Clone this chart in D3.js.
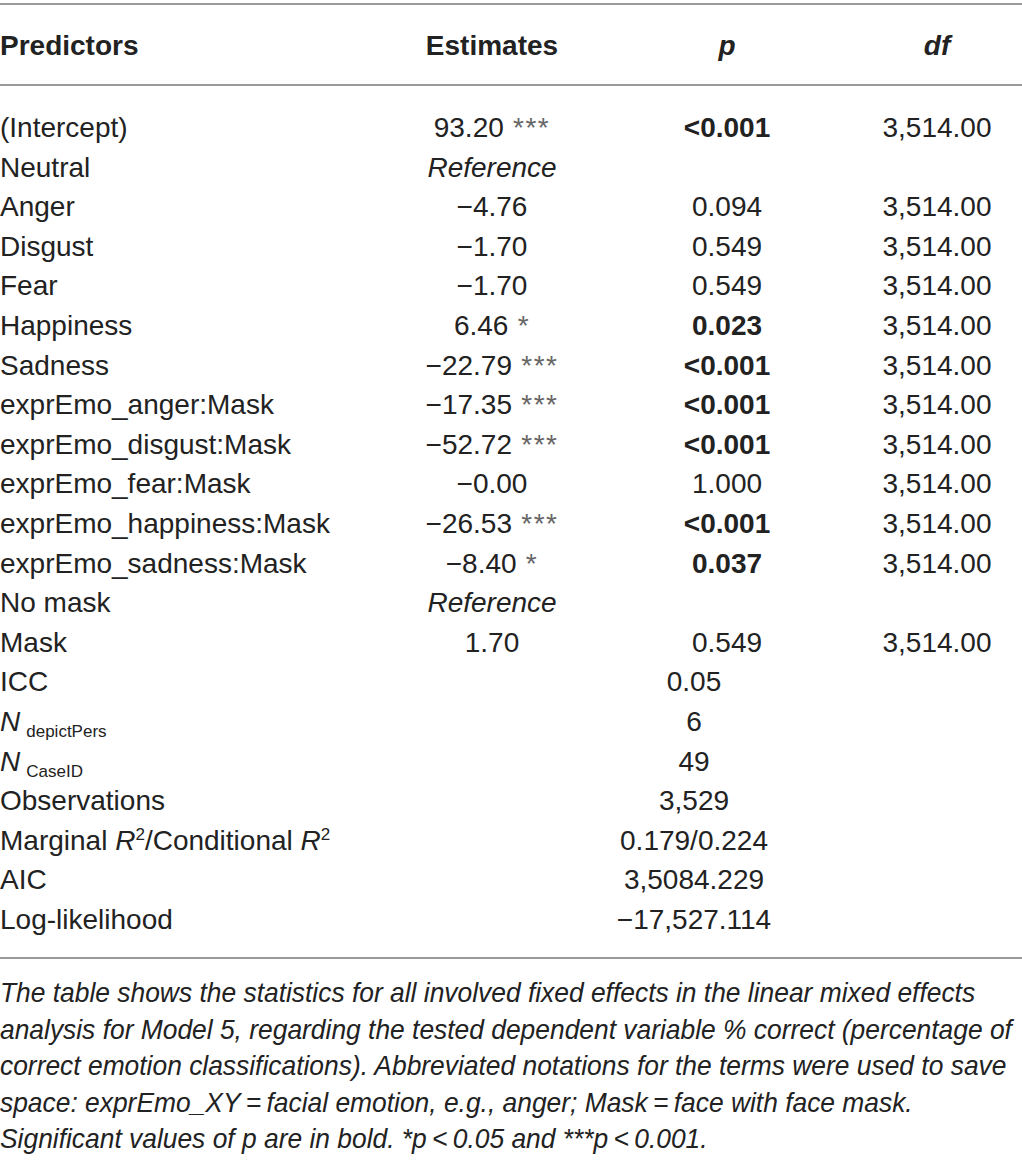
<!DOCTYPE html>
<html lang="en">
<head>
<meta charset="utf-8">
<title>Model 5 fixed effects</title>
<script type="text/javascript" src="https://d3js.org/d3.v7.min.js"></script>
<style type="text/css">
  body { margin: 0; background: #fff; }
  svg text { font-family: "Liberation Sans", Arial, sans-serif; fill: #222; }
  .note { font-style: italic; }
</style>
</head>
<body>
<script type="text/javascript">
// table content
var headers = ["Predictors", "Estimates", "p", "df"];
var predictors = ["(Intercept)", "Neutral", "Anger", "Disgust", "Fear", "Happiness", "Sadness",
  "exprEmo_anger:Mask", "exprEmo_disgust:Mask", "exprEmo_fear:Mask", "exprEmo_happiness:Mask",
  "exprEmo_sadness:Mask", "No mask", "Mask"];
var estimates = ["93.20", "Reference", "\u22124.76", "\u22121.70", "\u22121.70", "6.46", "\u221222.79",
  "\u221217.35", "\u221252.72", "\u22120.00", "\u221226.53", "\u22128.40", "Reference", "1.70"];
var stars = ["***", "", "", "", "", "*", "***", "***", "***", "", "***", "*", "", ""];
var pValues = ["<0.001", "", "0.094", "0.549", "0.549", "0.023", "<0.001", "<0.001", "<0.001",
  "1.000", "<0.001", "0.037", "", "0.549"];
var pBold = [true, false, false, false, false, true, true, true, true, false, true, true, false, false];
var dfValues = ["3,514.00", "", "3,514.00", "3,514.00", "3,514.00", "3,514.00", "3,514.00", "3,514.00",
  "3,514.00", "3,514.00", "3,514.00", "3,514.00", "", "3,514.00"];

var statLabels = ["ICC", "N depictPers", "N CaseID", "Observations", "Marginal R2/Conditional R2", "AIC", "Log-likelihood"];
var statValues = ["0.05", "6", "49", "3,529", "0.179/0.224", "3,5084.229", "\u221217,527.114"];

var noteLines = [
  "The table shows the statistics for all involved fixed effects in the linear mixed effects",
  "analysis for Model 5, regarding the tested dependent variable % correct (percentage of",
  "correct emotion classifications). Abbreviated notations for the terms were used to save",
  "space: exprEmo_XY\u2009=\u2009facial emotion, e.g., anger; Mask\u2009=\u2009face with face mask.",
  "Significant values of p are in bold. *p\u2009<\u20090.05 and ***p\u2009<\u20090.001."
];

var width = 1022, height = 1165;
var fs = 28;

var svg = d3.select("body").append("svg")
    .attr("width", width)
    .attr("height", height);

// rows: index 0..20
var allRows = predictors.concat(statLabels);
var y = d3.scaleLinear()
    .domain([0, allRows.length - 1])
    .range([127, 919]);

var colX = d3.scaleOrdinal()
    .domain(headers)
    .range([0, 492, 727, 937]);
var statX = 694;

// rules
var rules = [4, 85, 958];
svg.selectAll(".rule")
    .data(rules)
    .enter().append("line")
    .attr("class", "rule")
    .attr("x1", 0).attr("x2", width)
    .attr("y1", function(d) { return d; })
    .attr("y2", function(d) { return d; })
    .attr("stroke", "#9a9a9a")
    .attr("stroke-width", 2);

// header
svg.selectAll(".hdr")
    .data(headers)
    .enter().append("text")
    .attr("class", "hdr")
    .attr("x", function(d) { return colX(d); })
    .attr("y", 55)
    .attr("text-anchor", function(d, i) { return i == 0 ? "start" : "middle"; })
    .attr("font-size", fs)
    .attr("font-weight", "bold")
    .attr("font-style", function(d, i) { return i >= 2 ? "italic" : "normal"; })
    .text(function(d) { return d; });

var base = 10; // baseline offset from row centre

// predictor names
svg.selectAll(".pred")
    .data(predictors)
    .enter().append("text")
    .attr("class", "pred")
    .attr("x", 0)
    .attr("y", function(d, i) { return y(i) + base; })
    .attr("font-size", fs)
    .text(function(d) { return d; });

// estimates with stars
var est = svg.selectAll(".est")
    .data(estimates)
    .enter().append("text")
    .attr("class", "est")
    .attr("x", colX("Estimates"))
    .attr("y", function(d, i) { return y(i) + base; })
    .attr("text-anchor", "middle")
    .attr("font-size", fs)
    .attr("font-style", function(d) { return d == "Reference" ? "italic" : "normal"; });
est.append("tspan").text(function(d) { return d; });
est.append("tspan")
    .attr("fill", "#666")
    .attr("letter-spacing", 1.5)
    .text(function(d, i) { return stars[i] ? " " + stars[i] : ""; });

svg.selectAll(".pv")
    .data(pValues)
    .enter().append("text")
    .attr("class", "pv")
    .attr("x", colX("p"))
    .attr("y", function(d, i) { return y(i) + base; })
    .attr("text-anchor", "middle")
    .attr("font-size", fs)
    .attr("font-weight", function(d, i) { return pBold[i] ? "bold" : "normal"; })
    .text(function(d) { return d; });

svg.selectAll(".df")
    .data(dfValues)
    .enter().append("text")
    .attr("class", "df")
    .attr("x", colX("df"))
    .attr("y", function(d, i) { return y(i) + base; })
    .attr("text-anchor", "middle")
    .attr("font-size", fs)
    .text(function(d) { return d; });

// model statistics
var n0 = predictors.length;
var sl = svg.selectAll(".stat")
    .data(statLabels)
    .enter().append("text")
    .attr("class", "stat")
    .attr("x", 0)
    .attr("y", function(d, i) { return y(n0 + i) + base; })
    .attr("font-size", fs);

sl.each(function(d) {
    var t = d3.select(this);
    if (d.indexOf("N ") == 0) {
        t.append("tspan").attr("font-style", "italic").text("N");
        t.append("tspan").attr("font-size", 17).attr("dx", 6).attr("dy", 6).text(d.slice(2));
    } else if (d.indexOf("R2") >= 0) {
        t.append("tspan").text("Marginal ");
        t.append("tspan").attr("font-style", "italic").text("R");
        t.append("tspan").attr("font-size", 17).attr("dy", -10).text("2");
        t.append("tspan").attr("dy", 10).text("/Conditional ");
        t.append("tspan").attr("font-style", "italic").text("R");
        t.append("tspan").attr("font-size", 17).attr("dy", -10).text("2");
    } else {
        t.text(d);
    }
});

svg.selectAll(".sv")
    .data(statValues)
    .enter().append("text")
    .attr("class", "sv")
    .attr("x", statX)
    .attr("y", function(d, i) { return y(n0 + i) + base; })
    .attr("text-anchor", "middle")
    .attr("font-size", fs)
    .text(function(d) { return d; });

// footnote, slightly condensed like the original typeface
var note = svg.append("g")
    .attr("transform", "scale(0.96,1)");
note.selectAll(".note")
    .data(noteLines)
    .enter().append("text")
    .attr("class", "note")
    .attr("x", 0)
    .attr("y", function(d, i) { return 1002 + i * 36.6; })
    .attr("font-size", 27.5)
    .text(function(d) { return d; });
</script>
</body>
</html>
